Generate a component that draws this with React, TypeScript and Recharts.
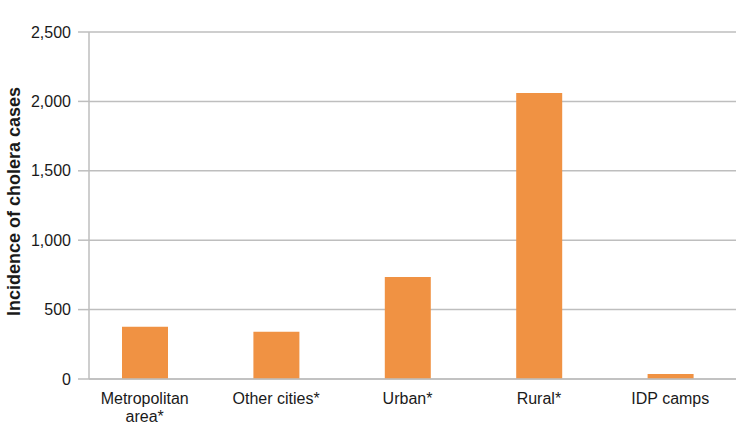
import React from "react";
import { BarChart, Bar, XAxis, YAxis, CartesianGrid, Label } from "recharts";

const categories = ["Metropolitan area*", "Other cities*", "Urban*", "Rural*", "IDP camps"];
const incidence = [377, 341, 735, 2060, 36];
const yTicks = [0, 500, 1000, 1500, 2000, 2500];

const data = categories.map((name, i) => ({ name, value: incidence[i] }));

const FONT = "'Liberation Sans', Arial, sans-serif";
const GRID = "#BEBEBE";

const XTick = (props: any) => {
  const { x, y, payload } = props;
  const text: string = payload.value;
  let lines = [text];
  if (text.length > 14) {
    const idx = text.lastIndexOf(" ");
    lines = [text.slice(0, idx), text.slice(idx + 1)];
  }
  return (
    <text x={x} y={y} textAnchor="middle" fontFamily={FONT} fontSize={16} fill="#1a1a1a">
      {lines.map((l, i) => (
        <tspan key={i} x={x} dy={i === 0 ? 25 : 18}>
          {l}
        </tspan>
      ))}
    </text>
  );
};

const YLabel = (props: any) => {
  const vb = props.viewBox;
  const cx = vb.x + 14;
  const cy = vb.y + vb.height / 2 - 4;
  return (
    <text
      x={cx}
      y={cy}
      transform={`rotate(-90 ${cx} ${cy})`}
      textAnchor="middle"
      dominantBaseline="central"
      fontFamily={FONT}
      fontWeight="bold"
      fontSize={18}
      fill="#1a1a1a"
    >
      Incidence of cholera cases
    </text>
  );
};

export default function App() {
  return (
    <div style={{ position: "absolute", left: 0, top: 0, background: "#fff" }}>
      <BarChart
        width={736}
        height={423}
        data={data}
        margin={{ top: 32, right: 0, bottom: 0, left: 0 }}
      >
        <CartesianGrid vertical={false} stroke={GRID} strokeWidth={1.5} />
        <XAxis
          dataKey="name"
          height={44}
          padding={{ left: -10, right: 0 }}
          axisLine={{ stroke: GRID, strokeWidth: 1.5 }}
          tickLine={false}
          tickSize={0}
          tickMargin={0}
          tick={<XTick />}
          interval={0}
        />
        <YAxis
          width={89}
          domain={[0, 2500]}
          ticks={yTicks}
          interval={0}
          tickSize={11}
          tickMargin={7}
          axisLine={{ stroke: GRID, strokeWidth: 1.5 }}
          tickLine={{ stroke: GRID, strokeWidth: 1.5 }}
          tick={{ fontFamily: FONT, fontSize: 16, fill: "#1a1a1a" }}
          tickFormatter={(v: number) => v.toLocaleString("en-US")}
        >
          <Label content={<YLabel />} />
        </YAxis>
        <Bar dataKey="value" fill="#F09243" barSize={46} isAnimationActive={false} />
      </BarChart>
    </div>
  );
}
